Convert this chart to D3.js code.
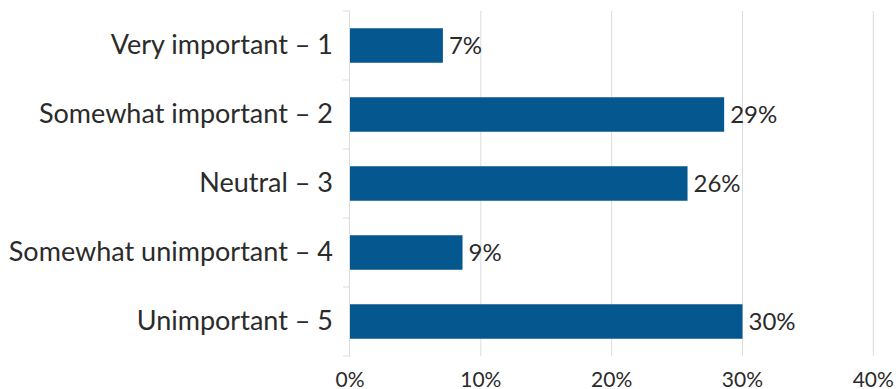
<!DOCTYPE html>
<html>
<head>
<meta charset="utf-8">
<script src="https://cdn.jsdelivr.net/npm/d3@7"></script>
<style>
  body { margin: 0; background: #fff; }
  svg { display: block; font-family: Lato, "Open Sans", sans-serif; }
</style>
</head>
<body>
<svg></svg>
<script>
var categories = ["Very important – 1", "Somewhat important – 2", "Neutral – 3", "Somewhat unimportant – 4", "Unimportant – 5"]
var values = [7.1, 28.6, 25.8, 8.6, 30.0]
var valueLabels = ["7%", "29%", "26%", "9%", "30%"]
var xTicks = [0, 10, 20, 30, 40]

var width = 896;
var height = 389;

var margin_left = 350;
var margin_right = 22.7;
var margin_top = 11;
var margin_bottom = 33;

var barColor = "#04578f";
var textColor = "#2b2b2b";

var svg = d3.select("svg")
    .attr("width", width)
    .attr("height", height);

var xScale = d3.scaleLinear()
    .domain([0, 40])
    .range([margin_left, width - margin_right]);

var yScale = d3.scaleBand()
    .domain(categories)
    .range([margin_top, height - margin_bottom])
    .paddingInner(0.5)
    .paddingOuter(0.25);

// gridlines
svg.append("g")
    .selectAll("line")
    .data(xTicks.slice(1))
    .enter()
    .append("line")
    .attr("x1", d => xScale(d))
    .attr("x2", d => xScale(d))
    .attr("y1", margin_top)
    .attr("y2", height - margin_bottom)
    .attr("stroke", "#dcdcdc")
    .attr("stroke-width", 1);

// category axis with ticks between bands
var yAxis = svg.append("g");
yAxis.append("line")
    .attr("x1", margin_left - 0.5)
    .attr("x2", margin_left - 0.5)
    .attr("y1", margin_top)
    .attr("y2", height - margin_bottom)
    .attr("stroke", "#dcdcdc");

var bounds = categories.map(c => yScale(c) - yScale.step() * yScale.paddingInner() / 2);
bounds.push(height - margin_bottom);
yAxis.selectAll(".tick")
    .data(bounds)
    .enter()
    .append("line")
    .attr("x1", margin_left - 7)
    .attr("x2", margin_left)
    .attr("y1", d => d)
    .attr("y2", d => d)
    .attr("stroke", "#dcdcdc");

yAxis.selectAll("text")
    .data(categories)
    .enter()
    .append("text")
    .attr("x", margin_left - 17)
    .attr("y", d => yScale(d) + yScale.bandwidth() / 2)
    .attr("dy", "0.3em")
    .attr("text-anchor", "end")
    .attr("fill", textColor)
    .style("font-size", "27px")
    .text(d => d);

// bars
svg.append("g")
    .selectAll("rect")
    .data(values)
    .enter()
    .append("rect")
    .attr("x", xScale(0))
    .attr("y", (d, i) => yScale(categories[i]))
    .attr("width", d => xScale(d) - xScale(0))
    .attr("height", yScale.bandwidth())
    .attr("fill", barColor);

// value labels
svg.append("g")
    .selectAll("text")
    .data(values)
    .enter()
    .append("text")
    .attr("x", d => xScale(d) + 6)
    .attr("y", (d, i) => yScale(categories[i]) + yScale.bandwidth() / 2)
    .attr("dy", "0.35em")
    .attr("fill", textColor)
    .style("font-size", "24px")
    .text((d, i) => valueLabels[i]);

// x axis labels
svg.append("g")
    .selectAll("text")
    .data(xTicks)
    .enter()
    .append("text")
    .attr("x", d => xScale(d))
    .attr("y", height - margin_bottom + 31)
    .attr("text-anchor", "middle")
    .attr("fill", textColor)
    .style("font-size", "21px")
    .text(d => d + "%");
</script>
</body>
</html>
